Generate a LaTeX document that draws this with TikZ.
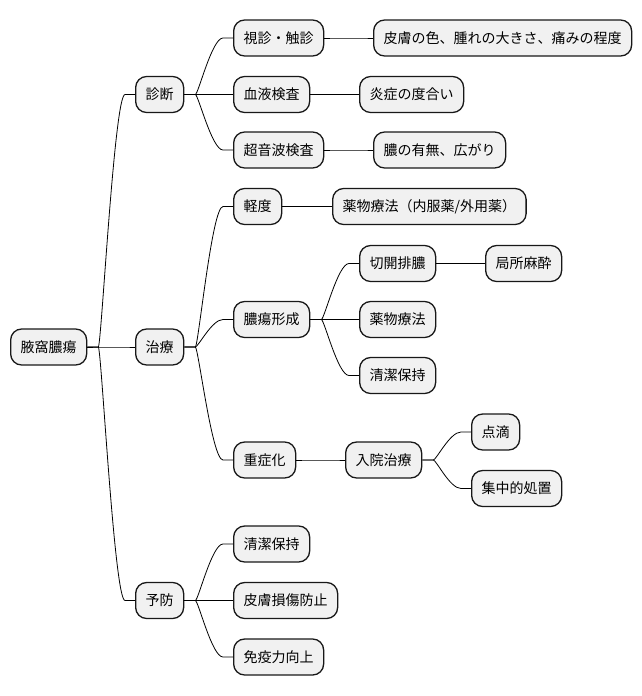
\documentclass[tikz,border=0pt]{standalone}
\usepackage{fontspec}
\setmainfont{Noto Sans CJK JP}
\usepackage{xcolor}
\usepackage{tikz}
\usetikzlibrary{calc}
\definecolor{FondoNodo}{RGB}{241,241,241}
\definecolor{BordeNodo}{RGB}{24,24,24}

\tikzset{
  box/.style={draw=BordeNodo,fill=FondoNodo,line width=1.3pt,rounded corners=11pt,
    minimum height=36pt,inner xsep=10pt,inner ysep=0pt,anchor=west,
    font=\fontsize{14}{16}\selectfont},
  link/.style={draw=black,line width=0.8pt}
}

\begin{document}
\begin{tikzpicture}[x=1pt,y=-1pt]
  \useasboundingbox (0,0) rectangle (642,696);

  % Raiz y primer nivel
  \node[box] (root) at (10,347) {腋窩膿瘍};
  \node[box] (shindan) at (135,94.5) {診断};
  \node[box] (chiryo) at (135,347) {治療};
  \node[box] (yobo) at (135,600.5) {予防};

  % Diagnostico
  \node[box] (shishin) at (233,38) {視診・触診};
  \node[box] (ketsueki) at (233,94.5) {血液検査};
  \node[box] (choonpa) at (233,150) {超音波検査};
  \node[box] (hifu) at (373,38) {皮膚の色、腫れの大きさ、痛みの程度};
  \node[box] (ensho) at (359,94.5) {炎症の度合い};
  \node[box] (umi) at (373,150) {膿の有無、広がり};

  % Tratamiento
  \node[box] (keido) at (233,206.5) {軽度};
  \node[box] (yakubutsuA) at (332,206.5) {薬物療法（内服薬/外用薬）};
  \node[box] (noyo) at (233,319.5) {膿瘍形成};
  \node[box] (sekkai) at (359,263.5) {切開排膿};
  \node[box] (masui) at (485,263.5) {局所麻酔};
  \node[box] (yakubutsuB) at (359,319.5) {薬物療法};
  \node[box] (seiketsuA) at (359,375.5) {清潔保持};
  \node[box] (jusho) at (233,460) {重症化};
  \node[box] (nyuin) at (345,460) {入院治療};
  \node[box] (tenteki) at (471,432) {点滴};
  \node[box] (shuchu) at (471,488.5) {集中的処置};

  % Prevencion
  \node[box] (seiketsuB) at (233,544) {清潔保持};
  \node[box] (sonsho) at (233,600.5) {皮膚損傷防止};
  \node[box] (meneki) at (233,657) {免疫力向上};

  % Ramas
  \foreach \a/\b in {root/shindan,root/chiryo,root/yobo,
      shindan/shishin,shindan/ketsueki,shindan/choonpa,
      shishin/hifu,ketsueki/ensho,choonpa/umi,
      chiryo/keido,chiryo/noyo,chiryo/jusho,keido/yakubutsuA,
      noyo/sekkai,noyo/yakubutsuB,noyo/seiketsuA,sekkai/masui,
      jusho/nyuin,nyuin/tenteki,nyuin/shuchu,
      yobo/seiketsuB,yobo/sonsho,yobo/meneki}{
    \path ([xshift=11pt]\a.east) coordinate (fk) ([xshift=-10pt]\b.west) coordinate (ee);
    \path ($(fk)!.6!(ee)$) coordinate (mm);
    \draw[link] (\a.east) -- (fk) .. controls ([xshift=3pt]fk) and (mm |- ee) .. (ee) -- (\b.west);
  }
\end{tikzpicture}
\end{document}
